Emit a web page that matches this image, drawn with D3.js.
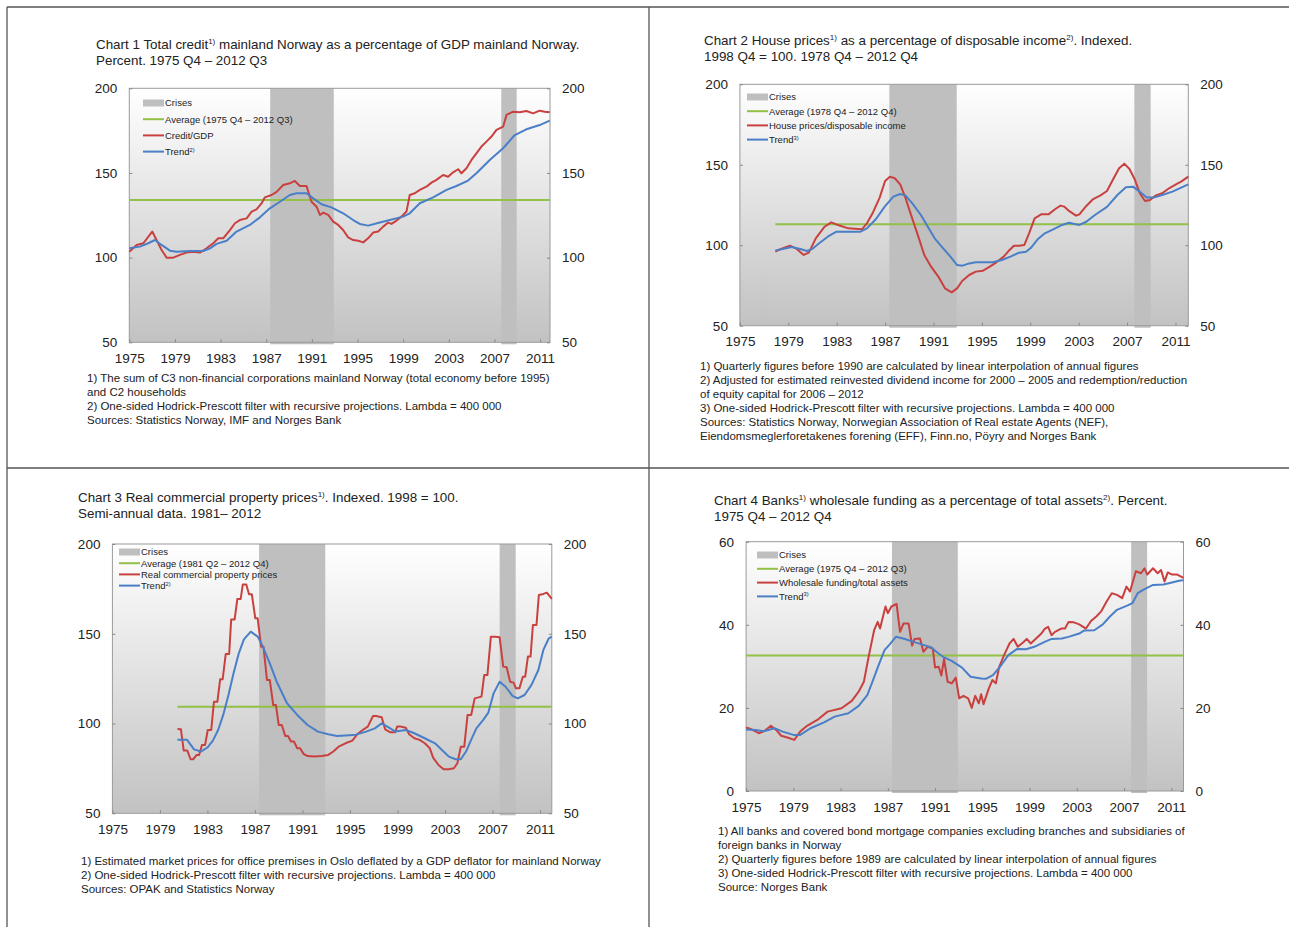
<!DOCTYPE html>
<html><head><meta charset="utf-8">
<script src="https://cdn.jsdelivr.net/npm/d3@7"></script>
<style>body{margin:0;background:#fff;} svg{display:block;font-family:"Liberation Sans",Arial,sans-serif;}</style>
</head><body><svg id="c" width="1289" height="927"></svg>
<script>
// ---------------- DATA ----------------
const xTickYears = [1975,1979,1983,1987,1991,1995,1999,2003,2007,2011];
const crisisPeriods = [[1987.35,1992.92],[2007.6,2008.95]];

// Chart 1
const c1CreditYears = [1975,1975.64,1976.23,1977.01,1977.39,1977.83,1978.27,1978.85,1979.44,1980.02,1980.61,1981.19,1981.77,1982.36,1982.8,1983.23,1983.82,1984.26,1984.69,1985.28,1985.72,1986.15,1986.59,1986.88,1987.47,1987.91,1988.49,1989.07,1989.51,1989.95,1990.53,1990.97,1991.41,1991.71,1992.0,1992.43,1992.87,1993.31,1993.74,1994.18,1994.62,1995.06,1995.5,1995.93,1996.37,1996.81,1997.25,1997.69,1997.98,1998.42,1998.85,1999.29,1999.58,2000.02,2000.46,2001.04,2001.48,2001.92,2002.5,2002.94,2003.38,2003.82,2004.11,2004.55,2004.99,2005.42,2005.86,2006.3,2006.74,2007.18,2007.77,2008.06,2008.64,2009.22,2009.8,2010.39,2010.97,2011.4,2011.85];
const c1Credit = [103.5,107.5,108.5,115.4,110.4,104.5,100,100,101.6,103,103.5,103,105.5,108.5,111.4,111.4,116.3,120.3,122.2,123.2,127.2,128.5,132,135.6,137,138.8,142.9,143.9,145.3,142.3,142.3,133,130.1,125.2,126.6,125.2,121.3,119.3,116.3,112,110.4,110,109,111.4,114.8,115.4,118.3,120.7,119.9,121.9,124.2,127.2,137,138,140,141.9,144.3,145.9,148.8,147.8,150.4,152.2,149.8,152.8,157.7,161.6,165.6,168.5,171.5,175.4,177.4,184.3,186.2,185.8,186.6,185.2,186.8,186.2,185.8];
const c1TrendYears = [1975,1975.93,1976.66,1977.25,1977.83,1978.56,1979.15,1980.31,1981.48,1982.07,1982.65,1983.53,1984.4,1985.57,1986.45,1987.32,1988.2,1989.07,1989.66,1990.53,1991.12,1991.85,1992.72,1993.74,1994.62,1995.2,1995.93,1996.96,1997.83,1999,1999.58,2000.46,2001.63,2002.8,2003.67,2004.69,2005.42,2006.59,2007.76,2008.78,2009.8,2010.97,2011.85];
const c1Trend = [105.5,106.5,108.5,110.4,107.5,104.1,103.5,103.9,103.9,105.5,108.1,110,115.4,119.3,123.8,129.1,133,137,138,138,135,131.5,129.7,126.2,122.2,119.9,118.9,120.7,122.2,124.2,126.2,132.1,135.6,140,142.3,145.5,149.8,157.7,164.6,172.4,175.8,178.3,180.9];
const c1Average = 134;
const c1AverageStart = 1975;

// Chart 2
const c2HouseYears = [1977.93,1978.4,1979.13,1979.7,1980.27,1980.7,1981.27,1982,1982.55,1983.1,1983.97,1984.8,1985.1,1985.5,1986,1986.55,1987,1987.4,1987.8,1988.25,1988.7,1989.1,1989.7,1990.24,1990.8,1991.4,1991.95,1992.5,1992.95,1993.37,1993.95,1994.5,1995.1,1995.65,1996.2,1996.8,1997.2,1997.65,1998.07,1998.5,1998.9,1999.36,1999.9,2000.5,2001.07,2001.5,2001.8,2002.2,2002.78,2003.06,2003.63,2004.2,2004.77,2005.34,2005.77,2006.34,2006.77,2007.2,2007.62,2008.05,2008.48,2008.9,2009.33,2009.9,2010.47,2011.04,2011.47,2012.06];
const c2House = [96,97.7,99.7,97.7,94,95.4,104.3,111.5,114.2,112.6,110.5,110.1,110,113.6,120.4,129.6,139.9,142.6,141.6,137.8,129.1,119.8,106.4,93.9,86.7,80.5,73.2,70.7,73.2,77.8,81.5,83.6,84.2,86.7,89.4,92.9,96.4,99.7,99.7,100.1,107.4,116.7,119.2,119.2,122.5,124.6,124,121.3,118.4,119.2,124.4,128.7,130.8,133.7,139.9,147.8,150.7,147.4,141.2,132.3,127.5,128.1,130.8,132.3,135.4,137.8,139.5,142.6];
const c2TrendYears = [1977.93,1978.56,1979.27,1979.99,1980.55,1980.98,1981.55,1982.26,1982.98,1983.97,1984.97,1985.5,1986.25,1986.97,1987.68,1988.25,1988.7,1989.25,1989.96,1990.53,1991.1,1991.8,1992.4,1992.95,1993.4,1993.95,1994.5,1995.37,1995.9,1996.65,1997.36,1998.07,1998.65,1999.07,1999.64,2000.2,2000.9,2001.63,2002.2,2003.06,2003.63,2004.34,2005.34,2006.2,2006.9,2007.48,2008.05,2008.62,2009.2,2009.9,2010.75,2011.47,2012.06];
const c2Trend = [96.8,97.7,98.9,97.7,96.4,97.7,101.2,105.3,108.4,108.4,108.4,110.5,116.3,124,130.2,131.8,130.8,126,118.8,111.5,104.3,98.1,92.9,87.7,87.3,88.7,89.4,89.4,89.4,90.8,92.9,95.4,96,98.5,103.9,107.4,109.9,112.6,114,112.6,114.6,118.8,123.8,131.2,136,136.4,133.3,129.6,129.6,131.2,133.3,135.8,137.8];
const c2Average = 113;
const c2AverageStart = 1977.93;

// Chart 3
const c3PriceYears = [1980.48,1980.77,1981,1981.3,1981.58,1981.8,1982.1,1982.3,1982.54,1982.8,1983.03,1983.32,1983.55,1983.84,1984.07,1984.28,1984.54,1984.83,1985,1985.29,1985.52,1985.8,1985.98,1986.27,1986.5,1986.74,1987.03,1987.23,1987.52,1987.72,1988.01,1988.25,1988.54,1988.77,1989,1989.26,1989.55,1989.78,1990.04,1990.28,1990.56,1990.8,1991.09,1991.43,1992.0,1992.6,1993.17,1993.6,1994.04,1994.62,1995.2,1995.64,1996.07,1996.5,1996.94,1997.2,1997.67,1997.96,1998.4,1998.8,1998.97,1999.26,1999.7,1999.98,2000.42,2000.86,2001.3,2001.72,2002,2002.45,2002.88,2003.32,2003.75,2004.04,2004.33,2004.62,2004.9,2005.2,2005.5,2006.07,2006.3,2006.57,2006.86,2007.23,2007.6,2007.9,2008.19,2008.48,2008.77,2008.97,2009.26,2009.55,2009.75,2009.98,2010.2,2010.4,2010.7,2010.9,2011.28,2011.57,2011.99];
const c3Price = [97,96.8,85,85,80.1,80.1,82.5,82.5,88,88,96.4,96.4,112.2,112.2,124.6,124.6,138.7,138.7,158,158,169.4,169.4,177.5,177.5,172,172,158.6,158.6,142.8,142.8,124.3,124.3,110.3,110.3,99.2,99.2,93.1,93.1,90,90,86.2,86.2,83.1,81.9,81.6,81.9,82.5,84.4,87.1,89,90.5,94.2,96.4,98.3,104.2,104.2,103.5,96.8,95.1,95.1,98.3,98.3,97.7,94,91.8,90.9,89,86.2,81,76.9,74.5,74.5,75.1,77.9,87.1,87.1,104.8,104.8,114,115,127,127,148.4,148.4,148,131.7,131.3,123.3,122.8,119.6,119.6,126.1,126.1,137.3,137.3,154.9,154.9,171.6,172.2,172.9,169.4];
const c3TrendYears = [1980.48,1981.29,1981.87,1982.45,1983.03,1983.46,1983.9,1984.33,1984.77,1985.2,1985.64,1986.07,1986.65,1987.23,1987.67,1988.25,1988.83,1989.7,1990.56,1991.43,1992.3,1993.17,1993.9,1994.62,1995.5,1996.36,1997.09,1997.67,1998.25,1998.83,1999.7,2000.42,2001.29,2002.16,2002.74,2003.32,2003.9,2004.33,2004.77,2005.2,2005.64,2006.22,2006.65,2007.09,2007.6,2008.1,2008.68,2009.12,2009.7,2010.28,2010.86,2011.28,2011.74,2011.99];
const c3Trend = [90.9,90.9,85.6,84.4,86.8,90.5,96.4,104.8,115.9,128,139.1,146.9,151.2,148.4,142.8,133.5,123.3,111.3,104.8,99.2,95.5,94,93.1,93.4,93.8,95.5,97.3,100.1,97.9,95.5,96.4,94.6,91.8,89,85.3,81.6,80.1,80.1,84.4,90.9,97.3,102,106.1,116.8,123.3,120.5,115.4,114,115.9,121.5,129.8,141,147.5,148.4];
const c3Average = 109.4;
const c3AverageStart = 1980.48;

// Chart 4
const c4FundingYears = [1975,1975.5,1976.08,1976.52,1977.1,1977.54,1977.97,1978.56,1979.08,1979.58,1980.16,1981.03,1981.9,1983.08,1983.95,1984.53,1984.97,1985.4,1985.84,1986.14,1986.34,1986.8,1987,1987.3,1987.74,1988.03,1988.32,1988.76,1989.05,1989.26,1989.72,1990.01,1990.36,1990.8,1991,1991.3,1991.53,1991.76,1992.06,1992.41,1992.75,1993.04,1993.4,1993.8,1994.1,1994.4,1994.7,1994.9,1995.1,1995.55,1995.85,1996.14,1996.43,1996.84,1997.3,1997.65,1998,1998.47,1998.76,1999.1,1999.55,2000,2000.28,2000.57,2000.86,2001.15,2001.68,2002,2002.3,2002.75,2003.2,2003.77,2004.2,2004.65,2005.08,2005.52,2005.96,2006.4,2006.84,2007.2,2007.5,2008,2008.44,2008.73,2008.96,2009.45,2009.84,2010.13,2010.42,2010.7,2011.06,2011.5,2012.03];
const c4Funding = [15.3,14.8,13.9,14.4,15.7,14.7,13.3,12.8,12.3,14.3,15.7,17.1,19.1,19.9,21.7,23.9,26.3,32.7,38.7,40.7,39.1,44.4,42.8,44.4,45,38.3,40.3,40.3,35,36.6,36.7,33.5,34.7,34.3,29.7,29.9,27.8,31.8,26.3,25.9,27.3,22.3,22.9,22.3,20,22.9,21.1,23.3,20.9,24.7,26.7,25.9,29.9,32.7,35.5,36.6,34.7,35.8,36.6,35.5,36.7,37.9,39,39.5,37.5,38.3,39.1,39.1,40.7,40.6,40.1,39.1,40.9,42,43.3,45.6,47.6,47.2,46.4,49.2,48,52.9,52.4,53.6,52.1,53.6,52.4,53.2,50.4,52.6,52.1,52.1,51.3];
const c4TrendYears = [1975,1975.8,1976.5,1977.4,1978.1,1979,1979.58,1980.45,1981.6,1982.5,1983.66,1984.53,1985.26,1985.7,1986.22,1986.72,1987.16,1987.68,1988.3,1989.2,1990.07,1990.65,1991.1,1991.67,1992.4,1993.28,1994,1994.9,1995.3,1995.9,1996.5,1997.2,1997.95,1998.7,1999.4,2000.28,2000.86,2001.73,2002.3,2003.2,2003.6,2004.48,2005.2,2005.8,2006.4,2007.26,2007.7,2008.15,2008.73,2009.45,2010.33,2011.06,2011.64,2012.03];
const c4Trend = [14.8,14.7,14.4,15.1,14.3,13.5,13.5,15.1,16.5,17.9,18.7,20.5,23.1,26.3,30.3,33.9,35.3,37.1,36.7,35.9,35.1,34.6,33.5,32.3,31.3,29.7,27.5,27.1,27,27.9,29.9,32.7,34.2,34.1,34.7,35.9,36.6,36.7,37.1,37.9,38.6,38.7,40.1,42,43.6,44.6,45.2,47.6,48.6,49.6,49.7,50.2,50.6,50.7];
const c4Average = 32.6;
const c4AverageStart = 1975;

// ---------------- TEXT ----------------
const c1Title = [[["Chart 1 Total credit"],["1)",1],[" mainland Norway as a percentage of GDP mainland Norway."]],[["Percent. 1975 Q4 – 2012 Q3"]]];
const c2Title = [[["Chart 2 House prices"],["1)",1],[" as a percentage of disposable income"],["2)",1],[". Indexed."]],[["1998 Q4 = 100. 1978 Q4 – 2012 Q4"]]];
const c3Title = [[["Chart 3 Real commercial property prices"],["1)",1],[". Indexed. 1998 = 100."]],[["Semi-annual data. 1981– 2012"]]];
const c4Title = [[["Chart 4 Banks"],["1)",1],[" wholesale funding as a percentage of total assets"],["2)",1],[". Percent."]],[["1975 Q4 – 2012 Q4"]]];

const c1Legend = ["Crises","Average (1975 Q4 – 2012 Q3)","Credit/GDP","Trend","2)"];
const c2Legend = ["Crises","Average (1978 Q4 – 2012 Q4)","House prices/disposable income","Trend","3)"];
const c3Legend = ["Crises","Average (1981 Q2 – 2012 Q4)","Real commercial property prices","Trend","2)"];
const c4Legend = ["Crises","Average (1975 Q4 – 2012 Q3)","Wholesale funding/total assets","Trend","3)"];

const c1Notes = ["1) The sum of C3 non-financial corporations mainland Norway (total economy before 1995)","and C2 households","2) One-sided Hodrick-Prescott filter with recursive projections. Lambda = 400 000","Sources: Statistics Norway, IMF and Norges Bank"];
const c2Notes = ["1) Quarterly figures before 1990 are calculated by linear interpolation of annual figures","2) Adjusted for estimated reinvested dividend income for 2000 – 2005 and redemption/reduction","of equity capital for 2006 – 2012","3) One-sided Hodrick-Prescott filter with recursive projections. Lambda = 400 000","Sources: Statistics Norway, Norwegian Association of Real estate Agents (NEF),","Eiendomsmeglerforetakenes forening (EFF), Finn.no, Pöyry and Norges Bank"];
const c3Notes = ["1) Estimated market prices for office premises in Oslo deflated by a GDP deflator for mainland Norway","2) One-sided Hodrick-Prescott filter with recursive projections. Lambda = 400 000","Sources: OPAK and Statistics Norway"];
const c4Notes = ["1) All banks and covered bond mortgage companies excluding branches and subsidiaries of","foreign banks in Norway","2) Quarterly figures before 1989 are calculated by linear interpolation of annual figures","3) One-sided Hodrick-Prescott filter with recursive projections. Lambda = 400 000","Source: Norges Bank"];

const ticks50 = [50,100,150,200];
const ticks0 = [0,20,40,60];

// ---------------- LAYOUT ----------------
const RED="#c9413f", BLUE="#4a7fc8", GREEN="#93c047", CRISIS="#bfbfbf", TXT="#222";
const TITLE_FS=13.4, NOTE_FS=11.5, LEG_FS=9.5, TICK_FS=13.5;
const panels = [
 {id:1,L:129.3,R:550,T:88.3,B:342.3,xd:[1975,2011.87],yd:[50,200],yt:ticks50,
  title:c1Title,tx:96,ty:48.5,leg:c1Legend,lx:143,ly:103,ldy:16.2,
  notes:c1Notes,nx:87,ny:382,ndy:14,
  red:[c1CreditYears,c1Credit],blue:[c1TrendYears,c1Trend],avg:c1Average,avgStart:c1AverageStart},
 {id:2,L:739.9,R:1188.3,T:84.3,B:325.7,xd:[1975,2012.06],yd:[50,200],yt:ticks50,
  title:c2Title,tx:704,ty:44.5,leg:c2Legend,lx:747,ly:97,ldy:14.2,
  notes:c2Notes,nx:700,ny:369.5,ndy:14,
  red:[c2HouseYears,c2House],blue:[c2TrendYears,c2Trend],avg:c2Average,avgStart:c2AverageStart},
 {id:3,L:112.4,R:551.8,T:544,B:813.3,xd:[1975,2011.99],yd:[50,200],yt:ticks50,
  title:c3Title,tx:78,ty:501.5,leg:c3Legend,lx:119,ly:552,ldy:11.2,
  notes:c3Notes,nx:81,ny:865,ndy:14,
  red:[c3PriceYears,c3Price],blue:[c3TrendYears,c3Trend],avg:c3Average,avgStart:c3AverageStart},
 {id:4,L:746.1,R:1183.5,T:541.7,B:791,xd:[1975,2012.03],yd:[0,60],yt:ticks0,
  title:c4Title,tx:714,ty:504.5,leg:c4Legend,lx:757,ly:555,ldy:13.8,
  notes:c4Notes,nx:718,ny:835,ndy:14,
  red:[c4FundingYears,c4Funding],blue:[c4TrendYears,c4Trend],avg:c4Average,avgStart:c4AverageStart}
];

const svg = d3.select("#c");
const frame = svg.append("g").attr("stroke","#555").attr("stroke-width",1.3);
frame.append("line").attr("x1",7).attr("y1",7).attr("x2",1289).attr("y2",7);
frame.append("line").attr("x1",7).attr("y1",7).attr("x2",7).attr("y2",927);
frame.append("line").attr("x1",649).attr("y1",7).attr("x2",649).attr("y2",927);
frame.append("line").attr("x1",7).attr("y1",468).attr("x2",1289).attr("y2",468);

const defs = svg.append("defs");
const grad = defs.append("linearGradient").attr("id","bg").attr("x1",0).attr("y1",0).attr("x2",0).attr("y2",1);
grad.append("stop").attr("offset","0%").attr("stop-color","#ffffff");
grad.append("stop").attr("offset","100%").attr("stop-color","#c2c2c2");

function addRich(textSel, segs, fs){
  let up=false;
  segs.forEach(s=>{
    const t=textSel.append("tspan").text(s[0]);
    if(s[1]){ t.attr("font-size",fs*0.6).attr("dy",-fs*0.36); up=true; }
    else if(up){ t.attr("dy",fs*0.36); up=false; }
  });
}

panels.forEach(p=>{
  const g = svg.append("g");
  const x = d3.scaleLinear().domain(p.xd).range([p.L,p.R]);
  const y = d3.scaleLinear().domain(p.yd).range([p.B,p.T]);
  g.append("rect").attr("x",p.L).attr("y",p.T).attr("width",p.R-p.L).attr("height",p.B-p.T).attr("fill","url(#bg)");
  g.selectAll(".cr").data(crisisPeriods).join("rect")
    .attr("x",d=>x(d[0])).attr("width",d=>x(d[1])-x(d[0]))
    .attr("y",p.T).attr("height",p.B-p.T+2).attr("fill",CRISIS);
  g.append("rect").attr("x",p.L).attr("y",p.T).attr("width",p.R-p.L).attr("height",p.B-p.T)
    .attr("fill","none").attr("stroke","#9a9a9a").attr("stroke-width",1);
  const ax = d3.axisBottom(x).tickValues(xTickYears).tickFormat(d3.format("d")).tickSizeInner(-3).tickSizeOuter(0).tickPadding(11);
  const ga = g.append("g").attr("transform",`translate(0,${p.B})`).call(ax);
  const ayl = d3.axisLeft(y).tickValues(p.yt).tickSizeInner(-3).tickSizeOuter(0).tickPadding(12);
  const gl = g.append("g").attr("transform",`translate(${p.L},0)`).call(ayl);
  const ayr = d3.axisRight(y).tickValues(p.yt).tickSizeInner(-3).tickSizeOuter(0).tickPadding(12);
  const gr = g.append("g").attr("transform",`translate(${p.R},0)`).call(ayr);
  [ga,gl,gr].forEach(a=>{
    a.select(".domain").remove();
    a.selectAll("line").attr("stroke","#888");
    a.selectAll("text").attr("font-size",TICK_FS).attr("fill",TXT).attr("font-family","Liberation Sans, Arial, sans-serif");
  });
  g.append("line").attr("x1",x(p.avgStart)).attr("x2",p.R).attr("y1",y(p.avg)).attr("y2",y(p.avg))
    .attr("stroke",GREEN).attr("stroke-width",2);
  const line = d3.line().x(d=>x(d[0])).y(d=>y(d[1]));
  const bluePts = d3.zip(p.blue[0],p.blue[1]);
  const redPts = d3.zip(p.red[0],p.red[1]);
  g.append("path").attr("d",line(redPts)).attr("fill","none").attr("stroke",RED).attr("stroke-width",2).attr("stroke-linejoin","round");
  g.append("path").attr("d",line(bluePts)).attr("fill","none").attr("stroke",BLUE).attr("stroke-width",2).attr("stroke-linejoin","round");
  const lg = g.append("g");
  const cols=[null,GREEN,RED,BLUE];
  for(let i=0;i<4;i++){
    const yy=p.ly+i*p.ldy;
    if(i===0) lg.append("rect").attr("x",p.lx).attr("y",yy-3.5).attr("width",21).attr("height",7).attr("fill",CRISIS);
    else lg.append("line").attr("x1",p.lx).attr("x2",p.lx+21).attr("y1",yy).attr("y2",yy).attr("stroke",cols[i]).attr("stroke-width",2);
    const t=lg.append("text").attr("x",p.lx+22).attr("y",yy).attr("dy","0.35em").attr("font-size",LEG_FS).attr("fill",TXT);
    if(i===3) addRich(t,[[p.leg[3]],[p.leg[4],1]],LEG_FS); else t.text(p.leg[i]);
  }
  p.title.forEach((segs,i)=>{
    const t=g.append("text").attr("x",p.tx).attr("y",p.ty+i*16).attr("font-size",TITLE_FS).attr("fill",TXT);
    addRich(t,segs,TITLE_FS);
  });
  p.notes.forEach((s,i)=>{
    g.append("text").attr("x",p.nx).attr("y",p.ny+i*p.ndy).attr("font-size",NOTE_FS).attr("fill",TXT).text(s);
  });
});
</script></body></html>
